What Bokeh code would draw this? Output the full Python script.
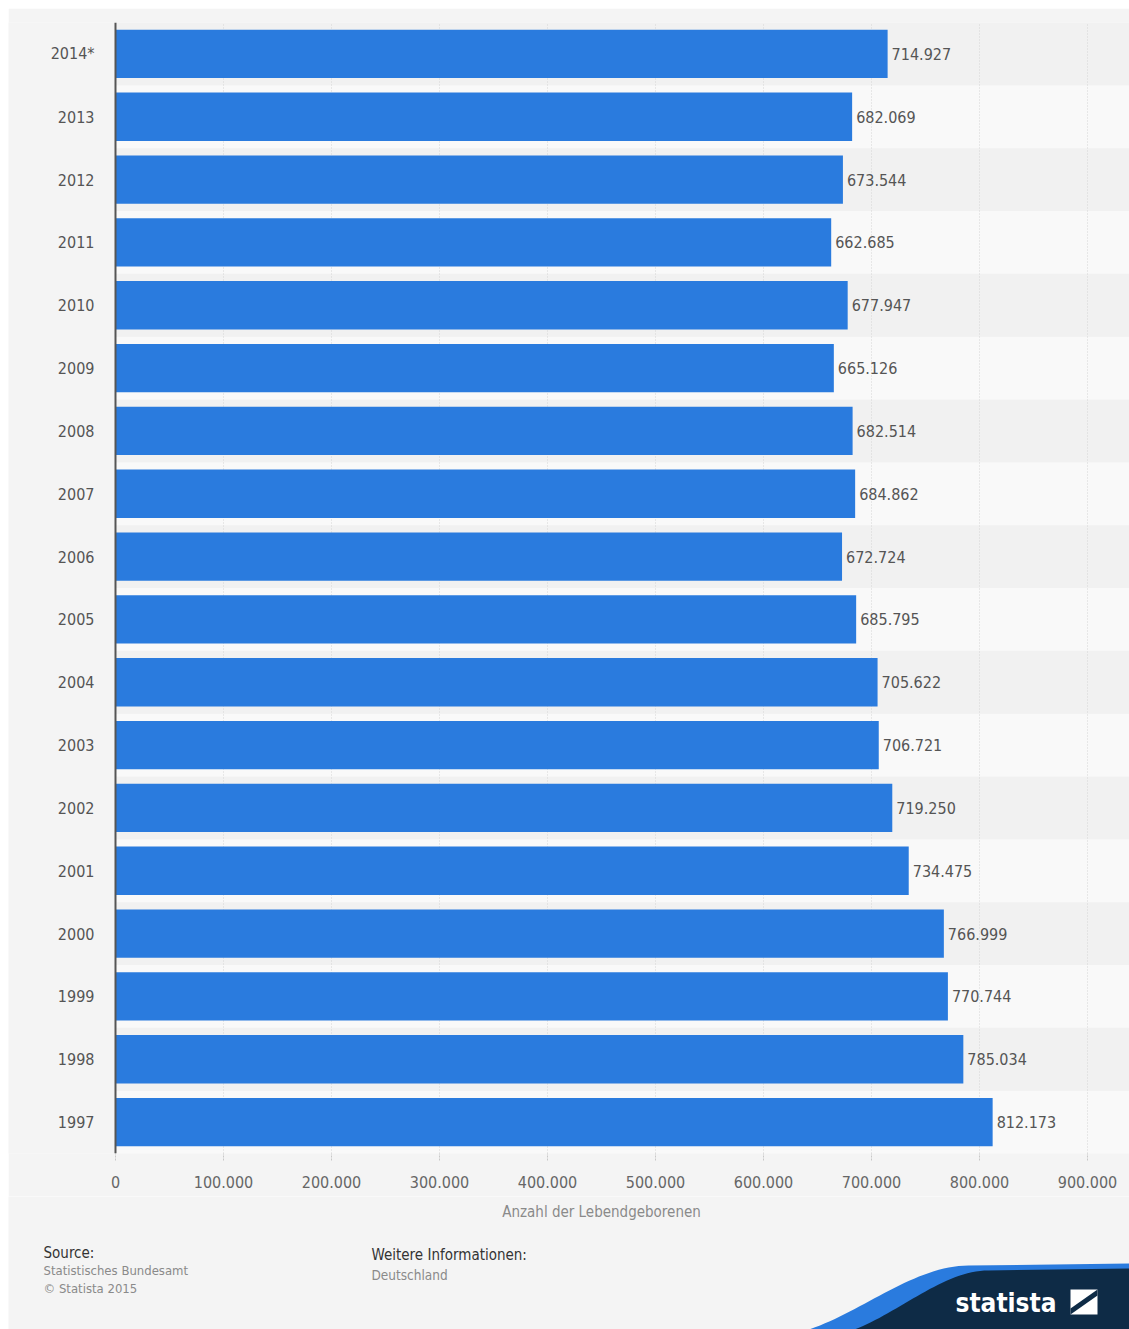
from bokeh.plotting import figure
from bokeh.models import FactorRange, Range1d, FixedTicker, ColumnDataSource, Span
from bokeh.layouts import column
from bokeh.core.properties import value
from bokeh.embed import file_html
from bokeh.resources import INLINE

# ---- data ----
years = ["2014*", "2013", "2012", "2011", "2010", "2009", "2008", "2007", "2006",
         "2005", "2004", "2003", "2002", "2001", "2000", "1999", "1998", "1997"]
births = [714927, 682069, 673544, 662685, 677947, 665126, 682514, 684862, 672724,
          685795, 705622, 706721, 719250, 734475, 766999, 770744, 785034, 812173]
x_ticks = [0, 100000, 200000, 300000, 400000, 500000, 600000, 700000, 800000, 900000]
x_title = "Anzahl der Lebendgeborenen"
source_lines = ["Statistisches Bundesamt", "© Statista 2015"]
info_lines = ["Deutschland"]


def de(n):
    return f"{n:,}".replace(",", ".")


FONT = "'DejaVu Sans Condensed', 'DejaVu Sans', sans-serif"
BG = "#f4f4f4"
BLUE = "#2a7bde"
NAVY = "#0e2b46"
W = 1121
H_MAIN = 1188
H_FOOT = 133
X_START = -99070
X_END = 938890

cats = list(reversed(years))
vals = list(reversed(births))

p = figure(width=W, height=H_MAIN, output_backend="svg", toolbar_location=None,
           y_range=FactorRange(*cats, range_padding=0), x_range=Range1d(X_START, X_END),
           min_border_left=0, min_border_right=0, min_border_top=14, min_border_bottom=43)
p.background_fill_color = BG
p.border_fill_color = BG
p.outline_line_color = None

# alternating row bands (2014* row darker)
band_colors = ["#f9f9f9" if (len(cats) - 1 - i) % 2 else "#f1f1f1" for i in range(len(cats))]
bands = p.hbar(y=cats, left=0, right=X_END, height=1, fill_color=band_colors, line_color=None)
bands.level = "image"

src = ColumnDataSource(dict(y=cats, v=vals, lab=[de(v) for v in vals], z=[0] * len(vals)))
p.hbar(y="y", right="v", left=0, height=0.77, source=src, fill_color=BLUE, line_color=None)
p.text(x="v", y="y", text="lab", source=src, x_offset=4, text_baseline="middle",
       text_align="left", text_font=value(FONT), text_font_size="16px", text_color="#555555")
# category labels (y axis)
p.text(x="z", y="y", text="y", source=src, x_offset=-21, text_baseline="middle",
       text_align="right", text_font=value(FONT), text_font_size="16px", text_color="#555555")
p.add_layout(Span(location=0, dimension="height", line_color="#555555", line_width=2))

p.ygrid.grid_line_color = None
p.yaxis.visible = False
p.xgrid.ticker = FixedTicker(ticks=x_ticks)
p.xgrid.grid_line_color = "#d4d4d4"
p.xgrid.grid_line_dash = "1 2"
p.xgrid.grid_line_width = 1

xa = p.xaxis[0]
xa.ticker = FixedTicker(ticks=x_ticks)
xa.major_label_overrides = {t: de(t) for t in x_ticks}
xa.axis_line_color = None
xa.major_tick_in = 0
xa.major_tick_out = 7
xa.major_tick_line_color = "#c8c8c8"
xa.major_tick_line_dash = "2 1"
xa.minor_tick_line_color = None
xa.major_label_text_font = FONT
xa.major_label_text_font_size = "16px"
xa.major_label_text_color = "#666666"
xa.major_label_standoff = 15

# ---- footer (data coordinates = page pixels) ----
f = figure(width=W, height=H_FOOT, output_backend="svg", toolbar_location=None,
           x_range=Range1d(8, 8 + W), y_range=Range1d(1196 + H_FOOT, 1196),
           min_border=0, min_border_left=0, min_border_right=0, min_border_top=0, min_border_bottom=0)
f.background_fill_color = BG
f.border_fill_color = BG
f.outline_line_color = None
f.axis.visible = False
f.grid.visible = False


def wave(x0, y0, x1, y1, n=40):
    xs, ys = [], []
    for i in range(n + 1):
        t = i / n
        s = 3 * t * t - 2 * t * t * t
        xs.append(x0 + (x1 - x0) * t)
        ys.append(y0 + (y1 - y0) * s)
    return xs, ys


bx, by = wave(770, 1336, 968, 1265)
f.patch(bx + [1129, 1129], by + [1263, 1336], fill_color=BLUE, line_color=None)
nx, ny = wave(820, 1336, 988, 1270)
f.patch(nx + [1129, 1129], ny + [1268, 1336], fill_color=NAVY, line_color=None)

f.text(x=[955], y=[1302], text=["statista"], text_font=value(FONT), text_font_style="bold",
       text_font_size="26px", text_color="white", text_baseline="middle", text_align="left")
f.quad(left=[1070], right=[1097], top=[1289], bottom=[1314], fill_color="white", line_color=None)
f.patch([1070, 1097, 1097, 1070], [1308, 1289, 1295, 1314], fill_color=NAVY, line_color=None)

f.text(x=[601], y=[1211], text=[x_title], text_font=value(FONT), text_font_size="15px",
       text_color="#8a8a8a", text_align="center", text_baseline="middle")
f.text(x=[43], y=[1252], text=["Source:"], text_font=value(FONT), text_font_size="15px",
       text_color="#333333", text_baseline="middle")
f.text(x=[43, 43], y=[1270, 1288], text=source_lines, text_font=value(FONT), text_font_size="13px",
       text_color="#8a8a8a", text_baseline="middle")
f.text(x=[371], y=[1254], text=["Weitere Informationen:"], text_font=value(FONT),
       text_font_size="15px", text_color="#333333", text_baseline="middle")
f.text(x=[371], y=[1274], text=info_lines, text_font=value(FONT), text_font_size="13.5px",
       text_color="#8a8a8a", text_baseline="middle")

layout = column(p, f, spacing=0, margin=(8, 0, 0, 8))
open("out.html", "w").write(file_html(layout, INLINE))
